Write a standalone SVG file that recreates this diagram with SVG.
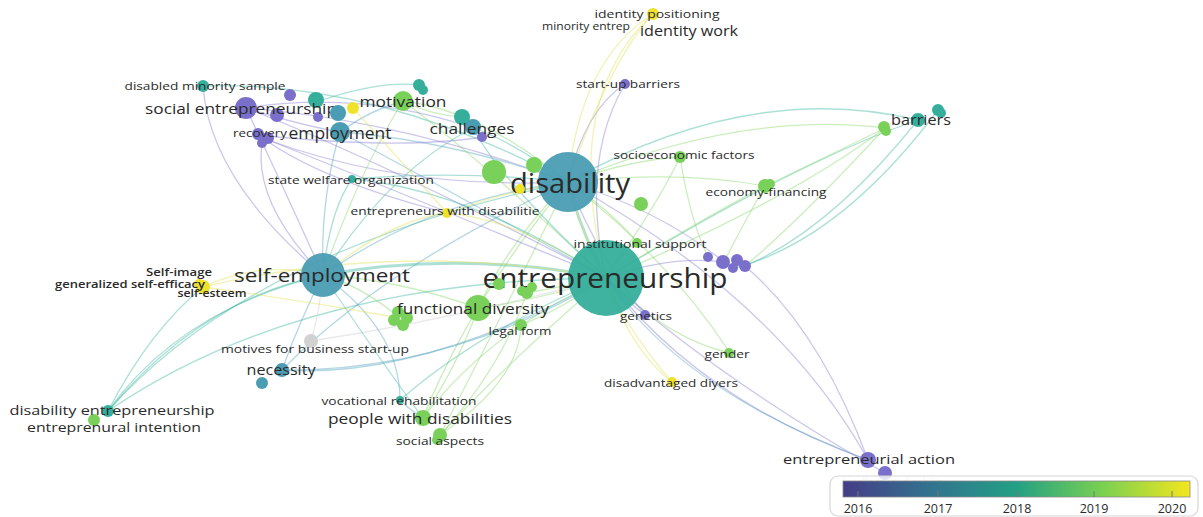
<svg xmlns="http://www.w3.org/2000/svg" width="1203" height="517" viewBox="0 0 1203 517">
<defs>
<linearGradient id="vir" x1="0" y1="0" x2="1" y2="0">
<stop offset="0" stop-color="#453d86"/>
<stop offset="0.25" stop-color="#33728f"/>
<stop offset="0.5" stop-color="#23a084"/>
<stop offset="0.75" stop-color="#7ad151"/>
<stop offset="1" stop-color="#f4e61e"/>
</linearGradient>
<style>
text{font-family:"Open Sans","Liberation Sans",sans-serif;fill:#2a2a2a;text-anchor:middle;dominant-baseline:central}
.e{fill:none;stroke-width:1.3;stroke-opacity:0.45}
.e16{stroke:#8a82d2}.e17{stroke:#5aa6c2}.e18{stroke:#46bba4}.e19{stroke:#8cd96e}.e20{stroke:#e2e25a}.eg{stroke:#cfcfcf}
.n16{fill:#7a6fca}.n17{fill:#4a9db3}.n18{fill:#35ae9b}.n19{fill:#79d15a}.n20{fill:#efe22a}.ng{fill:#d2d2d2}
.big{fill-opacity:0.95}
</style>
</defs>
<rect width="1203" height="517" fill="#ffffff"/>
<g id="connectors">
<path class="e e16" d="M568,182 Q400,120 246,108"/>
<path class="e e17" d="M568,182 Q450,140 340,132"/>
<path class="e e19" d="M568,182 Q480,110 403,101"/>
<path class="e e18" d="M568,182 Q510,140 473,128"/>
<path class="e e16" d="M568,182 Q585,110 625,84"/>
<path class="e e20" d="M568,182 Q580,60 653,14"/>
<path class="e e18" d="M568,182 Q750,80 918,120"/>
<path class="e e19" d="M568,182 Q740,110 885,128"/>
<path class="e e19" d="M568,182 Q630,160 680,157"/>
<path class="e e19" d="M568,182 Q680,170 765,186"/>
<path class="e e18" style="stroke-width:3" d="M568,182 Q580,230 606,278"/>
<path class="e e17" d="M568,182 Q430,200 323,275"/>
<path class="e e19" d="M568,182 Q510,240 478,308"/>
<path class="e e19" d="M568,182 Q470,300 423,418"/>
<path class="e e18" d="M568,182 Q460,170 352,179"/>
<path class="e e20" d="M568,182 Q510,190 447,213"/>
<path class="e e16" d="M568,182 Q660,210 724,262"/>
<path class="e e16" d="M568,182 Q400,190 263,138"/>
<path class="e e18" d="M568,182 Q380,80 203,86"/>
<path class="e e19" d="M568,182 Q610,210 638,243"/>
<path class="e e19" d="M568,182 Q670,260 730,353"/>
<path class="e e20" d="M568,182 Q600,300 672,382"/>
<path class="e e16" d="M568,182 Q600,260 645,315"/>
<path class="e e17" d="M568,182 Q380,270 282,370"/>
<path class="e e19" d="M568,182 Q500,320 440,435"/>
<path class="e e16" d="M568,182 Q780,300 868,460"/>
<path class="e e18" d="M568,182 Q250,250 108,411"/>
<path class="e e16" d="M606,278 Q380,160 246,108"/>
<path class="e e17" d="M606,278 Q430,180 340,132"/>
<path class="e e19" d="M606,278 Q470,150 403,101"/>
<path class="e e18" d="M606,278 Q500,180 473,128"/>
<path class="e e18" d="M606,278 Q800,160 918,120"/>
<path class="e e19" d="M606,278 Q790,200 885,128"/>
<path class="e e19" d="M606,278 Q700,220 765,186"/>
<path class="e e19" d="M606,278 Q660,200 680,157"/>
<path class="e e18" style="stroke-width:3" d="M606,278 Q460,250 323,275"/>
<path class="e e19" d="M606,278 Q540,300 478,308"/>
<path class="e e19" d="M606,278 Q560,310 521,325"/>
<path class="e e19" d="M606,278 Q570,285 527,293"/>
<path class="e e19" d="M606,278 Q490,330 423,418"/>
<path class="e e19" d="M606,278 Q510,360 440,435"/>
<path class="e e18" d="M606,278 Q480,330 400,400"/>
<path class="e e17" d="M606,278 Q420,380 282,370"/>
<path class="e eg" d="M606,278 Q450,320 311,341"/>
<path class="e e19" d="M606,278 Q670,340 730,353"/>
<path class="e e20" d="M606,278 Q630,350 672,382"/>
<path class="e e16" d="M606,278 Q625,300 645,315"/>
<path class="e e16" d="M606,278 Q700,400 868,460"/>
<path class="e e17" d="M606,278 Q680,390 868,460"/>
<path class="e e16" d="M606,278 Q720,380 885,473"/>
<path class="e e16" d="M606,278 Q670,255 724,262"/>
<path class="e e19" d="M606,278 Q620,250 638,243"/>
<path class="e e20" d="M606,278 Q520,220 447,213"/>
<path class="e e16" d="M606,278 Q580,160 625,84"/>
<path class="e e20" d="M606,278 Q560,100 653,14"/>
<path class="e e18" d="M606,278 Q300,280 108,411"/>
<path class="e e20" d="M606,278 Q400,240 203,287"/>
<path class="e e18" d="M606,278 Q470,190 352,179"/>
<path class="e e16" d="M606,278 Q420,200 263,138"/>
<path class="e e17" d="M323,275 Q320,200 340,132"/>
<path class="e e16" d="M323,275 Q280,180 246,108"/>
<path class="e e16" d="M323,275 Q250,200 263,138"/>
<path class="e e16" d="M323,275 Q210,180 203,86"/>
<path class="e e17" d="M323,275 Q300,320 282,370"/>
<path class="e eg" d="M323,275 Q320,310 311,341"/>
<path class="e e17" d="M323,275 Q400,330 400,400"/>
<path class="e e18" d="M323,275 Q380,360 423,418"/>
<path class="e e18" d="M323,275 Q180,310 108,411"/>
<path class="e e20" d="M323,275 Q260,260 203,287"/>
<path class="e e19" d="M323,275 Q360,285 400,318"/>
<path class="e e19" d="M323,275 Q400,280 478,308"/>
<path class="e e19" d="M323,275 Q360,170 403,101"/>
<path class="e e18" d="M323,275 Q330,210 352,179"/>
<path class="e e20" d="M323,275 Q390,220 447,213"/>
<path class="e e18" d="M323,275 Q390,170 473,128"/>
<path class="e e18" d="M203,287 Q150,330 108,411"/>
<path class="e e20" d="M203,287 Q300,300 400,318"/>
<path class="e e19" d="M885,128 Q820,160 765,186"/>
<path class="e e19" d="M885,128 Q800,220 745,266"/>
<path class="e e18" d="M918,120 Q830,230 745,266"/>
<path class="e e18" d="M938,110 Q840,240 735,268"/>
<path class="e e19" d="M765,186 Q740,230 724,262"/>
<path class="e e19" d="M680,157 Q690,220 708,257"/>
<path class="e e20" d="M653,14 Q610,60 568,182"/>
<path class="e e16" d="M246,108 Q300,125 340,132"/>
<path class="e e16" d="M263,138 Q320,180 447,213"/>
<path class="e e16" d="M246,108 Q360,90 473,128"/>
<path class="e e16" d="M258,135 Q400,150 482,137"/>
<path class="e e17" d="M340,132 Q370,110 403,101"/>
<path class="e e19" d="M403,101 Q430,115 462,117"/>
<path class="e e18" d="M316,102 Q380,80 420,85"/>
<path class="e e20" d="M353,108 Q400,160 447,213"/>
<path class="e e17" d="M400,400 Q410,410 423,418"/>
<path class="e e16" d="M868,460 Q820,330 745,266"/>
<path class="e e19" d="M423,418 Q460,360 478,308"/>
<path class="e e19" d="M440,435 Q500,370 527,293"/>
<path class="e e19" d="M440,435 Q520,380 521,325"/>
<path class="e e17" d="M282,370 Q450,372 606,278"/>
<path class="e e18" d="M108,411 Q200,300 323,275"/>
</g>
<g id="node-disability"><circle class="n17 big" cx="568" cy="182" r="30"/><text x="570" y="182" font-size="27" textLength="120" lengthAdjust="spacingAndGlyphs">disability</text></g>
<g id="node-entrepreneurship"><circle class="n18 big" cx="606" cy="278" r="38"/><text x="605" y="277" font-size="27" textLength="245" lengthAdjust="spacingAndGlyphs">entrepreneurship</text></g>
<g id="node-self-employment"><circle class="n17 big" cx="323" cy="275" r="22"/><text x="322" y="275" font-size="18" textLength="176" lengthAdjust="spacingAndGlyphs">self-employment</text></g>
<g id="node-functional-diversity">
<circle class="n19" cx="478" cy="308" r="13"/><circle class="n19" cx="398" cy="312" r="6"/><circle class="n19" cx="407" cy="318" r="6"/><circle class="n19" cx="394" cy="320" r="6"/><circle class="n19" cx="403" cy="325" r="6"/>
<text x="473" y="308" font-size="14.5" textLength="152" lengthAdjust="spacingAndGlyphs">functional diversity</text></g>
<g id="node-green-cluster"><circle class="n19" cx="527" cy="293" r="6"/><circle class="n19" cx="532" cy="287" r="5"/><circle class="n19" cx="522" cy="291" r="5"/><circle class="n19" cx="499" cy="284" r="6"/></g>
<g id="node-legal-form"><circle class="n19" cx="521" cy="325" r="6"/><text x="520" y="330" font-size="11.5" textLength="63" lengthAdjust="spacingAndGlyphs">legal form</text></g>
<g id="node-social-entrepreneurship">
<circle class="n16" cx="246" cy="108" r="11"/><circle class="n16" cx="277" cy="115" r="7"/><circle class="n16" cx="290" cy="95" r="6"/><circle class="n16" cx="318" cy="117" r="5"/><circle class="n18" cx="316" cy="100" r="8"/>
<text x="241" y="108" font-size="15" textLength="192" lengthAdjust="spacingAndGlyphs">social entrepreneurship</text></g>
<g id="node-employment"><circle class="n17" cx="340" cy="132" r="10"/><circle class="n17" cx="338" cy="113" r="8"/><text x="340" y="133" font-size="15.5" textLength="103" lengthAdjust="spacingAndGlyphs">employment</text></g>
<g id="node-recovery"><circle class="n16" cx="258" cy="134" r="6"/><circle class="n16" cx="268" cy="138" r="6"/><circle class="n16" cx="262" cy="143" r="5"/><text x="260" y="133" font-size="10.5" textLength="54" lengthAdjust="spacingAndGlyphs">recovery</text></g>
<g id="node-yellow-a"><circle class="n20" cx="353" cy="108" r="6"/></g>
<g id="node-motivation"><circle class="n19" cx="403" cy="101" r="10"/><circle class="n18" cx="419" cy="85" r="6"/><circle class="n18" cx="423" cy="90" r="5"/><text x="403" y="101" font-size="15" textLength="87" lengthAdjust="spacingAndGlyphs">motivation</text></g>
<g id="node-challenges"><circle class="n18" cx="462" cy="117" r="8"/><circle class="n17" cx="473" cy="127" r="8"/><circle class="n16" cx="482" cy="137" r="5"/><text x="472" y="128" font-size="14.5" textLength="85" lengthAdjust="spacingAndGlyphs">challenges</text></g>
<g id="node-disabled-minority-sample"><circle class="n18" cx="203" cy="86" r="6"/><text x="205" y="85" font-size="11.5" textLength="161" lengthAdjust="spacingAndGlyphs">disabled minority sample</text></g>
<g id="node-state-welfare"><circle class="n18" cx="352" cy="179" r="4"/><text x="351" y="179" font-size="11.5" textLength="166" lengthAdjust="spacingAndGlyphs">state welfare organization</text></g>
<g id="node-near-disability"><circle class="n19" cx="494" cy="172" r="12"/><circle class="n19" cx="534" cy="165" r="8"/><circle class="n20" cx="520" cy="189" r="5"/><circle class="n19" cx="641" cy="204" r="7"/></g>
<g id="node-entrepreneurs-with-disabilitie"><circle class="n20" cx="447" cy="213" r="5"/><text x="445" y="210" font-size="11.5" textLength="189" lengthAdjust="spacingAndGlyphs">entrepreneurs with disabilitie</text></g>
<g id="node-identity-positioning"><circle class="n20" cx="653" cy="14" r="6"/><text x="657" y="13" font-size="11.5" textLength="125" lengthAdjust="spacingAndGlyphs">identity positioning</text></g>
<g id="node-minority-entrep"><text x="586" y="26" font-size="10.5" textLength="88" lengthAdjust="spacingAndGlyphs">minority entrep</text></g>
<g id="node-identity-work"><text x="689" y="30" font-size="14" textLength="98" lengthAdjust="spacingAndGlyphs">identity work</text></g>
<g id="node-start-up-barriers"><circle class="n16" cx="625" cy="84" r="5"/><text x="628" y="83" font-size="11.5" textLength="104" lengthAdjust="spacingAndGlyphs">start-up barriers</text></g>
<g id="node-socioeconomic"><circle class="n19" cx="680" cy="157" r="6"/><text x="684" y="154" font-size="11.5" textLength="141" lengthAdjust="spacingAndGlyphs">socioeconomic factors</text></g>
<g id="node-economy-financing"><circle class="n19" cx="765" cy="186" r="7"/><circle class="n19" cx="770" cy="184" r="5"/><text x="766" y="191" font-size="11.5" textLength="121" lengthAdjust="spacingAndGlyphs">economy-financing</text></g>
<g id="node-barriers"><circle class="n19" cx="884" cy="127" r="6"/><circle class="n19" cx="886" cy="131" r="5"/><circle class="n18" cx="918" cy="120" r="7"/><circle class="n18" cx="938" cy="110" r="6"/><circle class="n18" cx="941" cy="113" r="5"/><text x="921" y="119" font-size="14" textLength="60" lengthAdjust="spacingAndGlyphs">barriers</text></g>
<g id="node-institutional-support"><circle class="n19" cx="637" cy="243" r="5"/><text x="640" y="243" font-size="11.5" textLength="133" lengthAdjust="spacingAndGlyphs">institutional support</text></g>
<g id="node-purple-cluster"><circle class="n16" cx="708" cy="257" r="5"/><circle class="n16" cx="723" cy="262" r="7"/><circle class="n16" cx="737" cy="260" r="6"/><circle class="n16" cx="745" cy="266" r="6"/><circle class="n16" cx="733" cy="268" r="5"/></g>
<g id="node-genetics"><circle class="n16" cx="645" cy="315" r="5"/><text x="646" y="315" font-size="11" textLength="52" lengthAdjust="spacingAndGlyphs">genetics</text></g>
<g id="node-gender"><circle class="n19" cx="729" cy="353" r="5"/><text x="727" y="353" font-size="11.5" textLength="45" lengthAdjust="spacingAndGlyphs">gender</text></g>
<g id="node-disadvantaged-diyers"><circle class="n20" cx="672" cy="382" r="5"/><text x="671" y="382" font-size="11.5" textLength="134" lengthAdjust="spacingAndGlyphs">disadvantaged diyers</text></g>
<g id="node-self-image"><circle class="n20" cx="203" cy="287" r="7"/><circle class="n20" cx="199" cy="284" r="5"/>
<text x="179" y="272" font-size="10.5" font-weight="600" textLength="66" lengthAdjust="spacingAndGlyphs">Self-image</text>
<text x="130" y="284" font-size="10.5" font-weight="600" textLength="150" lengthAdjust="spacingAndGlyphs">generalized self-efficacy</text>
<text x="212" y="293" font-size="10.5" font-weight="600" textLength="69" lengthAdjust="spacingAndGlyphs">self-esteem</text></g>
<g id="node-motives"><circle class="ng" cx="311" cy="341" r="7"/><text x="315" y="348" font-size="11.5" textLength="188" lengthAdjust="spacingAndGlyphs">motives for business start-up</text></g>
<g id="node-necessity"><circle class="n17" cx="282" cy="370" r="7"/><circle class="n17" cx="262" cy="383" r="6"/><text x="281" y="369" font-size="14" textLength="69" lengthAdjust="spacingAndGlyphs">necessity</text></g>
<g id="node-vocational"><circle class="n18" cx="400" cy="400" r="4"/><text x="399" y="400" font-size="11.5" textLength="155" lengthAdjust="spacingAndGlyphs">vocational rehabilitation</text></g>
<g id="node-people-with-disabilities"><circle class="n19" cx="423" cy="418" r="8"/><text x="420" y="418" font-size="14.5" textLength="184" lengthAdjust="spacingAndGlyphs">people with disabilities</text></g>
<g id="node-social-aspects"><circle class="n19" cx="440" cy="435" r="7"/><circle class="n19" cx="437" cy="440" r="5"/><text x="440" y="440" font-size="11.5" textLength="88" lengthAdjust="spacingAndGlyphs">social aspects</text></g>
<g id="node-disability-entrepreneurship"><circle class="n18" cx="108" cy="411" r="6"/><circle class="n19" cx="94" cy="420" r="6"/>
<text x="112" y="410" font-size="12" textLength="205" lengthAdjust="spacingAndGlyphs">disability entrepreneurship</text>
<text x="114" y="427" font-size="12" textLength="174" lengthAdjust="spacingAndGlyphs">entreprenural intention</text></g>
<g id="node-entrepreneurial-action"><circle class="n16" cx="868" cy="460" r="8"/><circle class="n16" cx="885" cy="473" r="7"/><text x="869" y="459" font-size="13.5" textLength="172" lengthAdjust="spacingAndGlyphs">entrepreneurial action</text></g>
<g id="node-intellectual-disability"><text x="895" y="481" font-size="11" style="fill:#bdbdbd">intellectual disability</text></g>
<g id="legend">
<rect x="830" y="476" width="368" height="40" rx="8" fill="#ffffff" fill-opacity="0.8" stroke="#d6d6d6" stroke-width="1.2"/>
<rect x="843" y="481" width="347" height="16" fill="url(#vir)" stroke="#8a8a8a" stroke-width="0.8"/>
<g stroke="#777" stroke-width="1"><line x1="858" y1="491" x2="858" y2="497"/><line x1="938" y1="491" x2="938" y2="497"/><line x1="1017" y1="491" x2="1017" y2="497"/><line x1="1094" y1="491" x2="1094" y2="497"/><line x1="1172" y1="491" x2="1172" y2="497"/></g>
<g font-size="12.5"><text x="858" y="508">2016</text><text x="938" y="508">2017</text><text x="1017" y="508">2018</text><text x="1094" y="508">2019</text><text x="1172" y="508">2020</text></g>
</g>
</svg>
